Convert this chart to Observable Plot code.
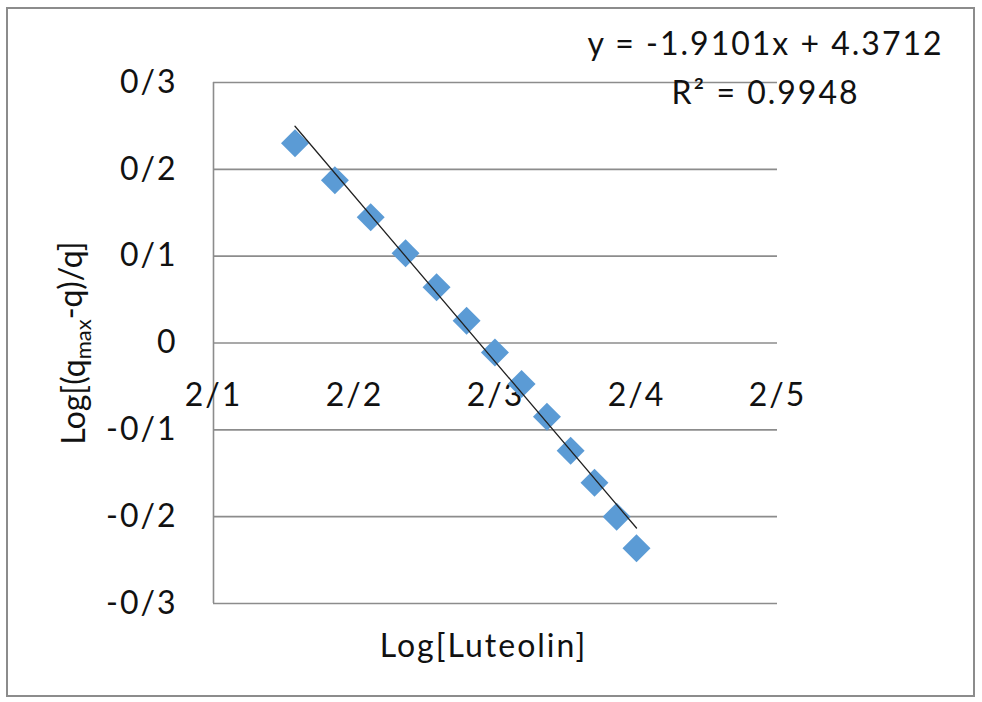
<!DOCTYPE html>
<html>
<head>
<meta charset="utf-8">
<script src="https://cdn.jsdelivr.net/npm/d3@7"></script>
<script src="https://cdn.jsdelivr.net/npm/@observablehq/plot@0.6"></script>
<style>
  html, body { margin: 0; padding: 0; background: #fff; }
  #wrap { position: relative; width: 982px; height: 702px; overflow: hidden; }
  #frame { position: absolute; left: 6px; top: 7px; width: 965px; height: 686px; border: 2px solid #8c8c8c; pointer-events: none; }
  #chart { position: absolute; left: 0; top: 0; }
  g.spaced text { letter-spacing: 2px; }
</style>
</head>
<body>
<div id="wrap"><div id="chart"></div><div id="frame"></div></div>
<script>
// Data
const xValues = [2.1578, 2.1861, 2.2115, 2.2362, 2.2582, 2.2795, 2.2996, 2.3185, 2.3365, 2.3533, 2.3702, 2.3859, 2.4000];
const yValues = [0.2301, 0.1874, 0.1448, 0.1034, 0.0641, 0.0257, -0.0109, -0.0472, -0.0849, -0.1241, -0.1609, -0.2001, -0.2365];
const slope = -1.9101;
const intercept = 4.3712;
const r2 = 0.9948;
const yTicks = [-0.3, -0.2, -0.1, 0, 0.1, 0.2, 0.3];
const yTickLabels = ["-0/3", "-0/2", "-0/1", "0", "0/1", "0/2", "0/3"];
const xTicks = [2.1, 2.2, 2.3, 2.4, 2.5];
const xTickLabels = ["2/1", "2/2", "2/3", "2/4", "2/5"];
const xTitle = "Log[Luteolin]";
const yTitle = "Log[(qmax-q)/q]";

const points = xValues.map((x, i) => ({x, y: yValues[i]}));
const trendX = [d3.min(xValues), d3.max(xValues)];

const font = "Lato, 'Open Sans', sans-serif";
const fs = 32;
const chart = Plot.plot({
  width: 982,
  height: 702,
  marginLeft: 213,
  marginRight: 205,
  marginTop: 82,
  marginBottom: 99,
  x: {domain: [2.1, 2.5], axis: null},
  y: {domain: [-0.3, 0.3], axis: null},
  style: {fontFamily: font, background: "transparent", color: "#111"},
  marks: [
    Plot.ruleY(yTicks, {y: d => d, stroke: "#8c8c8c", strokeWidth: 1.6}),
    Plot.ruleX([xTicks[0]], {x: d => d, stroke: "#8c8c8c", strokeWidth: 1.6}),
    Plot.text(yTicks, {x: xTicks[0], y: d => d, text: (d, i) => yTickLabels[i], textAnchor: "end", dx: -36, fontSize: fs, fill: "#111", className: "spaced"}),
    Plot.text(xTicks, {x: d => d, y: 0, text: (d, i) => xTickLabels[i], dy: 53, fontSize: fs, fill: "#111", className: "spaced"}),
    Plot.dot(points, {x: "x", y: "y", symbol: "diamond2", r: 12.6, fill: "#5b9bd5", stroke: "none"}),
    Plot.line(trendX, {x: d => d, y: d => slope * d + intercept, stroke: "#222", strokeWidth: 1.3}),
    Plot.text([`y = ${slope}x + ${intercept}`], {frameAnchor: "top-right", dx: -12, dy: -50, textAnchor: "middle", fontSize: fs, fill: "#111", className: "spaced"}),
    Plot.text([`R² = ${r2}`], {frameAnchor: "top-right", dx: -12, dy: -1, textAnchor: "middle", fontSize: fs, fill: "#111", className: "spaced"}),
    Plot.text([xTitle], {frameAnchor: "bottom", dx: -12, dy: 53, fontSize: fs, fill: "#111", className: "spaced"}),
    Plot.text([yTitle], {frameAnchor: "left", textAnchor: "middle", dx: -139, dy: 0, rotate: -90, fontSize: fs, fill: "#111", className: "ytitle"})
  ]
});
document.getElementById("chart").appendChild(chart);

// subscript "max" in the y title
d3.select(chart).selectAll("g.ytitle text").each(function() {
  const t = d3.select(this);
  t.text(null);
  t.append("tspan").text("Log[(q");
  t.append("tspan").attr("font-size", 22).attr("dy", "0.3em").text("max");
  t.append("tspan").attr("dy", "-0.3em").text("-q)/q]");
});
</script>
</body>
</html>
